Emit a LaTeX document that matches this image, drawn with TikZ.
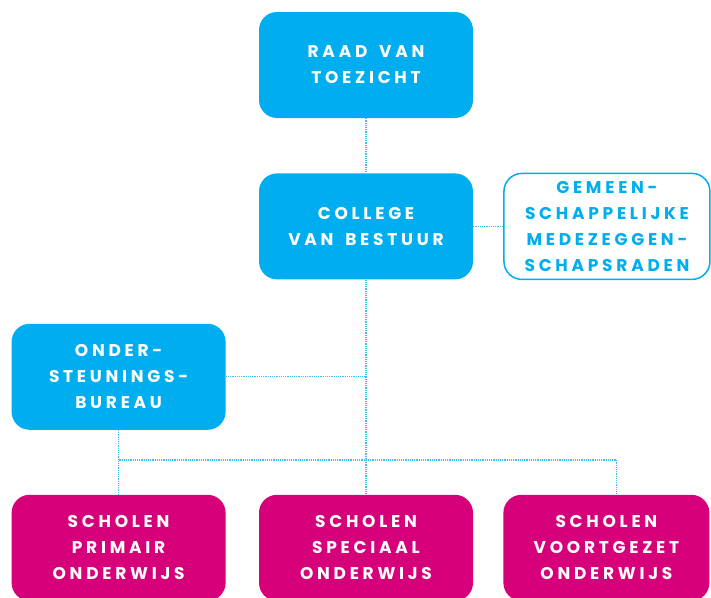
\documentclass[tikz,border=0pt]{standalone}
\usepackage{fontspec}
\newfontfamily\boxfont{Poppins}[LetterSpace=22, WordSpace=1.6]
\usetikzlibrary{positioning}
\definecolor{rvtblue}{HTML}{00AEEF}
\definecolor{scmagenta}{HTML}{D5007A}
\definecolor{plblue}{HTML}{3DBEF0}
\tikzstyle{bbox}=[rectangle, rounded corners=18pt, fill=rvtblue, draw=none,
                  text=white, minimum width=214pt, minimum height=106pt,
                  inner sep=2pt, align=center,
                  font=\boxfont\bfseries\fontsize{17}{26}\selectfont]
\tikzstyle{mbox}=[bbox, fill=scmagenta]
\tikzstyle{obox}=[bbox, fill=white, draw=rvtblue, line width=1.5pt,
                  text=rvtblue, minimum width=206pt]
\tikzstyle{pline}=[-, densely dotted, line width=1.2pt, draw=plblue]

\begin{document}
\begin{tikzpicture}[node distance=0mm]
\useasboundingbox (0,0) rectangle (711pt,-597pt);

\node (RVT) [bbox] at (366pt,-65pt) {RAAD VAN\\TOEZICHT};
\node (CVB) [bbox, below=55pt of RVT] {COLLEGE\\VAN BESTUUR};
\node (GMR) [obox, right=30pt of CVB] {GEMEEN-\\SCHAPPELIJKE\\MEDEZEGGEN-\\SCHAPSRADEN};
\node (OSB) [bbox, below left=44pt and 33pt of CVB] {ONDER-\\STEUNINGS-\\BUREAU};
\node (SSO) [mbox, below=215pt of CVB] {SCHOLEN\\SPECIAAL\\ONDERWIJS};
\node (SPO) [mbox, left=33pt of SSO] {SCHOLEN\\PRIMAIR\\ONDERWIJS};
\node (SVO) [mbox, right=30pt of SSO, minimum width=206pt] {SCHOLEN\\VOORTGEZET\\ONDERWIJS};

 \draw[pline]   (RVT.south) -- (CVB.north) ;
 \draw[pline]   (CVB.east) -- (GMR.west) ;
 \draw[pline]   (CVB.south) -- (SSO.north) ;
 \draw[pline]   (OSB.east) -- (OSB.east -| CVB.south) ;
 \draw[pline]   (OSB.south) -- (SPO.north) ;
 \draw[pline]   (OSB.south) -- ++(0,-30pt) -| ([xshift=10pt]SVO.north) ;

\end{tikzpicture}
\end{document}
